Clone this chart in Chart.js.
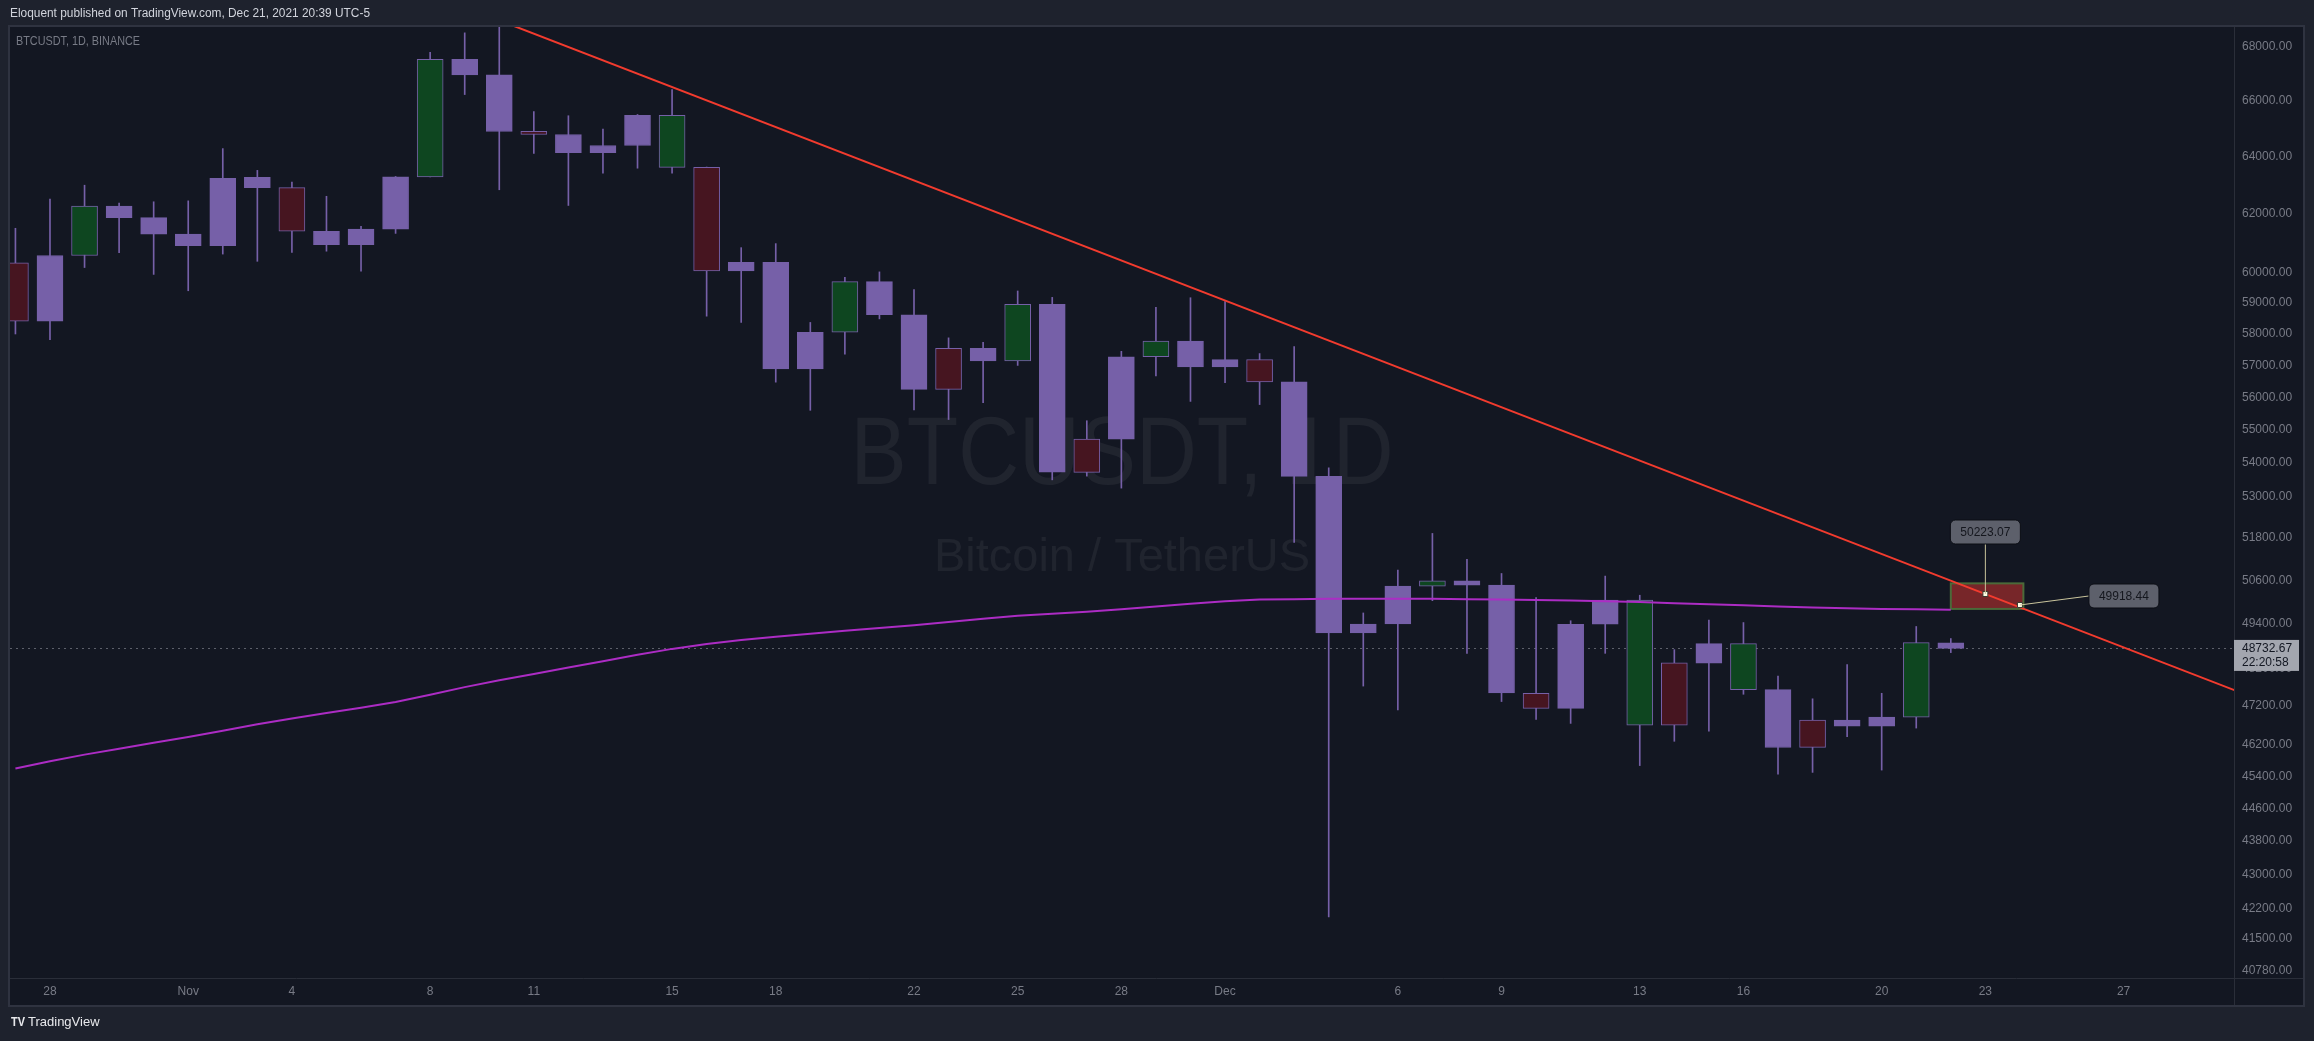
<!DOCTYPE html>
<html>
<head>
<meta charset="utf-8">
<script src="https://cdn.jsdelivr.net/npm/chart.js@4.4.1/dist/chart.umd.min.js"></script>
<style>
  html, body { margin: 0; padding: 0; background: #1e222d; overflow: hidden; }
  canvas { display: block; }
</style>
</head>
<body>
<canvas id="grafico" width="2314" height="1041"></canvas>
<script>
// BTCUSDT 1D (Binance), Oct 27 -> Dec 22 2021. Dia 0 = Oct 27
const dates = ['Oct 27', 'Oct 28', 'Oct 29', 'Oct 30', 'Oct 31', 'Nov 1', 'Nov 2', 'Nov 3', 'Nov 4', 'Nov 5',
  'Nov 6', 'Nov 7', 'Nov 8', 'Nov 9', 'Nov 10', 'Nov 11', 'Nov 12', 'Nov 13', 'Nov 14', 'Nov 15',
  'Nov 16', 'Nov 17', 'Nov 18', 'Nov 19', 'Nov 20', 'Nov 21', 'Nov 22', 'Nov 23', 'Nov 24', 'Nov 25',
  'Nov 26', 'Nov 27', 'Nov 28', 'Nov 29', 'Nov 30', 'Dec 1', 'Dec 2', 'Dec 3', 'Dec 4', 'Dec 5',
  'Dec 6', 'Dec 7', 'Dec 8', 'Dec 9', 'Dec 10', 'Dec 11', 'Dec 12', 'Dec 13', 'Dec 14', 'Dec 15',
  'Dec 16', 'Dec 17', 'Dec 18', 'Dec 19', 'Dec 20', 'Dec 21', 'Dec 22']
const open = [60328, 58413, 60575, 62253, 61859, 61300, 60911, 63254, 62896, 61396,
  60941, 61470, 63274, 67525, 66947, 64883, 64774, 64122, 64380, 65466,
  63606, 60058, 60344, 56891, 58057, 59707, 58617, 56247, 57542, 57138,
  58960, 53723, 54716, 57274, 57776, 56950, 57184, 56484, 53601, 49153,
  49396, 50441, 50589, 50471, 47535, 47140, 49389, 50053, 46702, 48336,
  48864, 47632, 46133, 46835, 46681, 46914, 48887]
const high = [61496, 62499, 62980, 62359, 62405, 62437, 64270, 63500, 63086, 62595,
  61560, 63286, 67789, 68524, 69000, 65600, 65450, 64970, 65495, 66401,
  63617, 60840, 60976, 58372, 59846, 60029, 59444, 57876, 57735, 59398,
  59188, 55280, 57445, 58865, 59176, 59053, 57375, 57600, 53859, 49699,
  50891, 51936, 51200, 50797, 50125, 49485, 50724, 50189, 48700, 49500,
  49436, 47995, 47392, 48300, 47537, 49328, 49000]
const low = [58000, 57820, 60174, 60673, 59945, 59405, 60624, 60382, 60677, 60721,
  60050, 61322, 63273, 66222, 62822, 64100, 62278, 63400, 63576, 63400,
  58575, 58373, 56474, 55600, 57353, 58487, 55610, 55317, 55837, 57000,
  53500, 53611, 53256, 56666, 55875, 56458, 55777, 51680, 42000, 47727,
  47100, 50039, 48600, 47320, 46852, 46751, 48600, 45672, 46290, 46548,
  47511, 45456, 45500, 46406, 45558, 46630, 48620]
const close = [58413, 60575, 62253, 61859, 61300, 60911, 63219, 62896, 61395, 60937,
  61470, 63273, 67525, 66947, 64882, 64774, 64122, 64380, 65466, 63606,
  60058, 60344, 56891, 58052, 59707, 58622, 56247, 57541, 57138, 58960,
  53726, 54721, 57274, 57776, 56950, 57184, 56480, 53601, 49152, 49396,
  50441, 50589, 50471, 47545, 47140, 49389, 50053, 46702, 48343, 48864,
  47632, 46131, 46834, 46681, 46914, 48889, 48733]
// cor do corpo vinda do indicador: p = roxo, g = verde, r = vermelho
const tone = ['r', 'p', 'g', 'p', 'p', 'p', 'p', 'p', 'r', 'p',
  'p', 'p', 'g', 'p', 'p', 'r', 'p', 'p', 'p', 'g',
  'r', 'p', 'p', 'p', 'g', 'p', 'p', 'r', 'p', 'g',
  'p', 'r', 'p', 'g', 'p', 'p', 'r', 'p', 'p', 'p',
  'p', 'g', 'p', 'p', 'r', 'p', 'p', 'g', 'r', 'p',
  'g', 'p', 'r', 'p', 'p', 'g', 'p']
// media movel longa (linha magenta)
const ma = [45600, 45780, 45950, 46100, 46250, 46400, 46560, 46730, 46880, 47020,
  47160, 47310, 47500, 47700, 47880, 48050, 48220, 48390, 48560, 48720,
  48850, 48960, 49050, 49130, 49210, 49290, 49360, 49450, 49540, 49620,
  49680, 49730, 49800, 49880, 49950, 50020, 50070, 50080, 50090, 50090,
  50090, 50090, 50080, 50070, 50060, 50040, 50020, 50000, 49970, 49940,
  49910, 49880, 49850, 49830, 49810, 49800, 49790]

const tickDays = [1, 5, 8, 12, 15, 19, 22, 26, 29, 32, 35, 40, 43, 47, 50, 54, 57, 61]
const tickText = ['28', 'Nov', '4', '8', '11', '15', '18', '22', '25', '28', 'Dec', '6', '9', '13', '16', '20', '23', '27']
const priceTicks = [68000, 66000, 64000, 62000, 60000, 59000, 58000, 57000, 56000, 55000, 54000, 53000,
  51800, 50600, 49400, 48200, 47200, 46200, 45400, 44600, 43800, 43000, 42200, 41500, 40780]

// linha de tendencia, retangulo e precos marcados
const trendDays = [14, 65]
const trendPrices = [69000, 47342]
const markDays = [57, 58]
const markPrices = [50223.07, 49918.44]
const boxDays = [56, 58.1]
const boxPrices = [49810, 50520]
const lastPrice = 48732.67
const countdown = '22:20:58'

const roxo = '#7660a8'
const corTom = { p: roxo, g: '#0e4620', r: '#461520' }
const fonte = "'Liberation Sans', Arial, sans-serif"

Chart.defaults.font.family = fonte
Chart.defaults.font.size = 12

function caixaTexto(c, txt, cx, cy, w, h) {
  c.beginPath()
  c.roundRect(cx - w / 2, cy - h / 2, w, h, 5)
  c.fillStyle = '#5d606b'
  c.fill()
  c.strokeStyle = '#0c0e15'
  c.lineWidth = 1
  c.stroke()
  c.fillStyle = '#15171e'
  c.textAlign = 'center'
  c.textBaseline = 'middle'
  c.fillText(txt, cx, cy + 1)
}

const moldura = {
  id: 'moldura',
  beforeDraw(chart) {
    const c = chart.ctx, a = chart.chartArea
    const sx = chart.scales.x, sy = chart.scales.y
    c.save()
    c.fillStyle = '#1e222d'
    c.fillRect(0, 0, chart.width, chart.height)
    c.fillStyle = '#131722'
    c.fillRect(a.left, a.top, sy.right - a.left, sx.bottom - a.top)

    // marca d'agua
    const mx = (a.left + a.right) / 2, my = (a.top + a.bottom) / 2
    c.fillStyle = 'rgba(120, 123, 134, 0.13)'
    c.textAlign = 'center'
    c.textBaseline = 'middle'
    c.font = '97px ' + fonte
    c.fillText('BTCUSDT, 1D', mx, my - 45, 543)
    c.font = '47px ' + fonte
    c.fillText('Bitcoin / TetherUS', mx, my + 56, 396)

    // textos do topo
    c.textAlign = 'left'
    c.fillStyle = '#d1d4dc'
    c.font = '12px ' + fonte
    c.fillText('Eloquent published on TradingView.com, Dec 21, 2021 20:39 UTC-5', 10, 14, 360)
    c.fillStyle = '#787b86'
    c.fillText('BTCUSDT, 1D, BINANCE', 16, 42, 124)

    // logo do rodape
    c.fillStyle = '#e8e9ec'
    c.font = 'bold 13px ' + fonte
    c.fillText('TV', 11, 1022, 14)
    c.font = '13px ' + fonte
    c.fillText('TradingView', 28, 1022, 75)
    c.restore()
  },
  beforeDatasetsDraw(chart) {
    const c = chart.ctx, a = chart.chartArea
    const sx = chart.scales.x, sy = chart.scales.y
    c.save()
    // linha pontilhada do ultimo preco
    const py = Math.round(sy.getPixelForValue(lastPrice)) + 0.5
    c.strokeStyle = '#5d606b'
    c.setLineDash([2, 4])
    c.lineWidth = 1
    c.beginPath()
    c.moveTo(a.left, py)
    c.lineTo(a.right, py)
    c.stroke()
    c.setLineDash([])
    // retangulo
    const x0 = sx.getPixelForValue(boxDays[0]), x1 = sx.getPixelForValue(boxDays[1])
    const y0 = sy.getPixelForValue(boxPrices[1]), y1 = sy.getPixelForValue(boxPrices[0])
    c.fillStyle = 'rgba(128, 40, 42, 0.92)'
    c.fillRect(x0, y0, x1 - x0, y1 - y0)
    c.strokeStyle = '#4b6a39'
    c.lineWidth = 2
    c.strokeRect(x0, y0, x1 - x0, y1 - y0)
    c.restore()
  },
  afterDraw(chart) {
    const c = chart.ctx, a = chart.chartArea
    const sx = chart.scales.x, sy = chart.scales.y
    c.save()
    c.font = '12px ' + fonte

    // etiquetas dos precos marcados
    const m1x = sx.getPixelForValue(markDays[0]), m1y = sy.getPixelForValue(markPrices[0])
    const m2x = sx.getPixelForValue(markDays[1]), m2y = sy.getPixelForValue(markPrices[1])
    c.strokeStyle = '#c9c49c'
    c.lineWidth = 1
    c.beginPath()
    c.moveTo(m1x, m1y)
    c.lineTo(m1x, m1y - 50)
    c.moveTo(m2x, m2y)
    c.lineTo(m2x + 69, m2y - 9)
    c.stroke()
    caixaTexto(c, markPrices[0].toFixed(2), m1x, m1y - 62, 70, 24)
    caixaTexto(c, markPrices[1].toFixed(2), m2x + 104, m2y - 9, 70, 24)

    // separadores e borda do painel
    c.strokeStyle = '#2a2e39'
    c.lineWidth = 1
    c.beginPath()
    c.moveTo(Math.round(a.right) + 0.5, a.top)
    c.lineTo(Math.round(a.right) + 0.5, sx.bottom)
    c.moveTo(a.left, Math.round(a.bottom) + 0.5)
    c.lineTo(sy.right, Math.round(a.bottom) + 0.5)
    c.stroke()
    c.strokeStyle = '#2f3340'
    c.lineWidth = 2
    c.strokeRect(a.left - 1, a.top - 1, sy.right - a.left + 2, sx.bottom - a.top + 2)

    // etiqueta do ultimo preco no eixo
    const py = sy.getPixelForValue(lastPrice)
    c.fillStyle = '#a3a6af'
    c.fillRect(a.right, py - 8.5, 65, 31)
    c.fillStyle = '#131722'
    c.textAlign = 'left'
    c.textBaseline = 'middle'
    c.fillText(lastPrice.toFixed(2), a.right + 8, py)
    c.fillText(countdown, a.right + 8, py + 14)
    c.restore()
  }
}

const bodies = dates.map((d, i) => ({ x: i, y: [open[i], close[i]] }))
const wicks = dates.map((d, i) => ({ x: i, y: [low[i], high[i]] }))

const ctx = document.getElementById('grafico')

new Chart(ctx, {
  type: 'bar',
  data: {
    datasets: [
      {
        type: 'scatter',
        data: markDays.map((d, i) => ({ x: d, y: markPrices[i] })),
        pointStyle: 'rect',
        pointRadius: 3.5,
        backgroundColor: '#ffffe8',
        borderColor: '#3a3a30',
        borderWidth: 1,
        order: 0
      },
      {
        type: 'line',
        data: trendDays.map((d, i) => ({ x: d, y: trendPrices[i] })),
        borderColor: '#f23b2e',
        borderWidth: 2,
        pointRadius: 0,
        order: 1
      },
      {
        type: 'line',
        data: ma.map((v, i) => ({ x: i, y: v })),
        borderColor: '#ac2cc4',
        borderWidth: 2,
        pointRadius: 0,
        order: 2
      },
      {
        data: bodies,
        backgroundColor: tone.map(t => corTom[t]),
        borderColor: roxo,
        borderWidth: 1,
        borderSkipped: false,
        barThickness: 26,
        grouped: false,
        order: 3
      },
      {
        data: wicks,
        backgroundColor: roxo,
        borderWidth: 0,
        barThickness: 1,
        grouped: false,
        order: 4
      }
    ]
  },
  options: {
    responsive: false,
    animation: false,
    devicePixelRatio: 1,
    layout: { padding: { left: 10, top: 27, right: 11, bottom: 36 } },
    plugins: { legend: { display: false }, tooltip: { enabled: false } },
    scales: {
      x: {
        type: 'linear',
        min: -0.157,
        max: 64.194,
        bounds: 'data',
        offset: false,
        grid: { display: false, drawTicks: false, offset: false },
        border: { display: false },
        ticks: {
          color: '#787b86',
          padding: 6,
          autoSkip: false,
          maxRotation: 0,
          callback: (v) => tickText[tickDays.indexOf(v)]
        },
        afterBuildTicks: (s) => { s.ticks = tickDays.map(d => ({ value: d })) },
        afterFit: (s) => { s.height = 27 }
      },
      y: {
        type: 'logarithmic',
        position: 'right',
        min: 40604,
        max: 68746,
        bounds: 'data',
        grid: { display: false, drawTicks: false },
        border: { display: false },
        ticks: {
          color: '#787b86',
          padding: 8,
          autoSkip: false,
          callback: (v) => Number(v).toFixed(2)
        },
        afterBuildTicks: (s) => { s.ticks = priceTicks.map(v => ({ value: v })) },
        afterFit: (s) => { s.width = 69 }
      }
    }
  },
  plugins: [moldura]
});
</script>
</body>
</html>
